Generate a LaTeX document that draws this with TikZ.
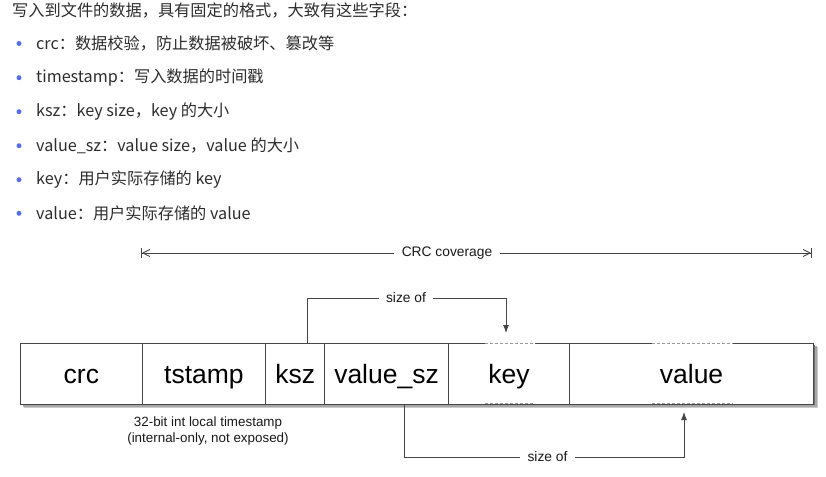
\documentclass[tikz,border=0pt]{standalone}
\usepackage{fontspec}
\newfontfamily\cjk{Noto Sans CJK SC}
\newfontfamily\hv{Liberation Sans}
\usetikzlibrary{arrows.meta}
\definecolor{bulletblue}{RGB}{88,110,232}
\definecolor{txt}{RGB}{45,45,45}
\definecolor{lin}{RGB}{70,70,70}
\begin{document}
\begin{tikzpicture}[x=1pt,y=-1pt,
  toptext/.style={anchor=west, inner sep=0pt, font=\cjk\fontsize{16.2}{18}\selectfont, text=txt},
  bulletdot/.style={circle, fill=bulletblue, inner sep=0pt, minimum size=5pt},
  cell/.style={draw=lin, line width=1.1pt, fill=white, minimum height=60.5pt, anchor=north west, inner sep=0pt,
    text height=20pt, text depth=0pt, font=\hv\fontsize{26.5}{30}\selectfont, text=black},
  lbl/.style={inner sep=0pt, font=\hv\fontsize{13.8}{15}\selectfont, text=black!90},
  conn/.style={draw=lin, line width=0.9pt},
  gap/.style={draw=white, line width=1.6pt},
  dots/.style={draw=gray!80, line width=1pt, dash pattern=on 3pt off 2pt}
]
\useasboundingbox[fill=white] (0,0) rectangle (826,476);

% ---- top text ----
\node[toptext] (head) at (12,11) {写入到文件的数据，具有固定的格式，大致有这些字段：};
\node[bulletdot] (b1) at (19,43.5) {};
\node[toptext] (t1) at (36,43.5) {crc：数据校验，防止数据被破坏、篡改等};
\node[bulletdot] (b2) at (19,77.7) {};
\node[toptext] (t2) at (36,77.7) {timestamp：写入数据的时间戳};
\node[bulletdot] (b3) at (19,111.7) {};
\node[toptext] (t3) at (36,111.7) {ksz：key size，key 的大小};
\node[bulletdot] (b4) at (19,145.7) {};
\node[toptext] (t4) at (36,145.7) {value\_sz：value size，value 的大小};
\node[bulletdot] (b5) at (19,179.7) {};
\node[toptext] (t5) at (36,179.7) {key：用户实际存储的 key};
\node[bulletdot] (b6) at (19,213.3) {};
\node[toptext] (t6) at (36,213.3) {value：用户实际存储的 value};

% ---- CRC coverage ----
\coordinate (crcL) at (141,253);
\coordinate (crcR) at (812,253);
\draw[conn, {Bar[width=10pt]Straight Barb[length=7pt,width=7pt]}-{Straight Barb[length=7pt,width=7pt]Bar[width=10pt]}] (crcL) -- (crcR);
\node[lbl, fill=white, inner xsep=8pt, inner ysep=2pt] (crc) at (447,253) {CRC coverage};

% ---- shadow ----
\fill[black!20] (24,347) rectangle (818,408);
\fill[black!35] (23,346) rectangle (816.5,406.5);
\fill[black!55] (22,345) rectangle (815,405);

% ---- cells ----
\node[cell, minimum width=121.7pt] (c1) at (20,343) {crc};
\node[cell, minimum width=123.3pt] (c2) at (141.7,343) {tstamp};
\node[cell, minimum width=59.3pt] (c3) at (265,343) {ksz};
\node[cell, minimum width=123.4pt] (c4) at (324.3,343) {value\_sz};
\node[cell, minimum width=121.3pt] (c5) at (447.7,343) {key};
\node[cell, minimum width=244pt] (c6) at (569,343) {value};

% dotted gaps on key and value
\coordinate (kA) at (485,343); \coordinate (kB) at (535,343);
\coordinate (kC) at (485,403.5); \coordinate (kD) at (535,403.5);
\coordinate (vA) at (652,343); \coordinate (vB) at (733,343);
\coordinate (vC) at (652,403.5); \coordinate (vD) at (733,403.5);
\draw[gap] (kA) -- (kB); \draw[dots] (kA) -- (kB);
\draw[gap] (kC) -- (kD); \draw[dots] (kC) -- (kD);
\draw[gap] (vA) -- (vB); \draw[dots] (vA) -- (vB);
\draw[gap] (vC) -- (vD); \draw[dots] (vC) -- (vD);

% ---- caption ----
\node[lbl, align=center, font=\hv\fontsize{13.4}{15.5}\selectfont] (cap) at (208,431) {32-bit int local timestamp\\(internal-only, not exposed)};

% ---- size of (top) ----
\node[lbl, inner xsep=7pt] (so1) at (406,298) {size of};
\coordinate (k1) at (307,343.5);
\coordinate (k2) at (506,333);
\draw[conn] (k1) |- (so1.west);
\draw[conn, -{Latex[length=8pt,width=6pt]}] (so1.east) -| (k2);

% ---- size of (bottom) ----
\node[lbl, inner xsep=7pt] (so2) at (547.5,457) {size of};
\coordinate (v1) at (404,403.5);
\coordinate (v2) at (684,412);
\draw[conn] (v1) |- (so2.west);
\draw[conn, -{Latex[length=8pt,width=6pt]}] (so2.east) -| (v2);
\end{tikzpicture}
\end{document}
